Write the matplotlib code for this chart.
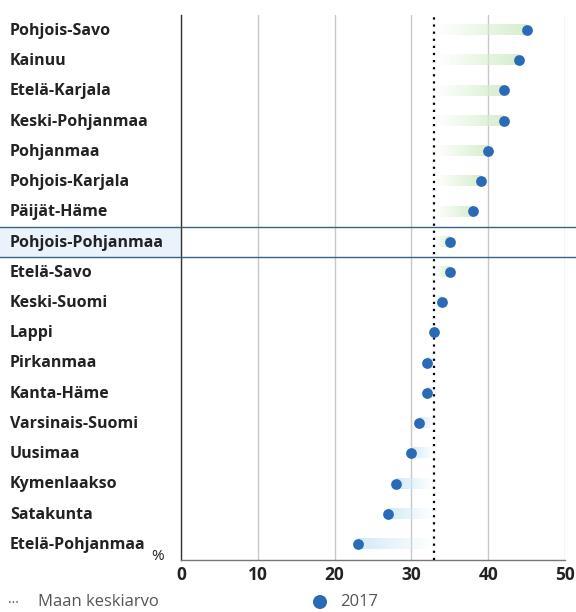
import numpy as np
import matplotlib
matplotlib.use("Agg")
import matplotlib.pyplot as plt
from matplotlib.transforms import blended_transform_factory
from matplotlib.patches import Rectangle, Ellipse

regions = ["Pohjois-Savo", "Kainuu", "Etelä-Karjala", "Keski-Pohjanmaa", "Pohjanmaa",
           "Pohjois-Karjala", "Päijät-Häme", "Pohjois-Pohjanmaa", "Etelä-Savo",
           "Keski-Suomi", "Lappi", "Pirkanmaa", "Kanta-Häme", "Varsinais-Suomi",
           "Uusimaa", "Kymenlaakso", "Satakunta", "Etelä-Pohjanmaa"]
values_2017 = [45, 44, 42, 42, 40, 39, 38, 35, 35, 34, 33, 32, 32, 31, 30, 28, 27, 23]
national_avg = 33
highlight = "Pohjois-Pohjanmaa"
xticks = [0, 10, 20, 30, 40, 50]

plt.rcParams['font.family'] = ['Open Sans', 'DejaVu Sans']

W, H = 576, 612
fig = plt.figure(figsize=(W/100, H/100), dpi=100)
ax = fig.add_axes([181/W, 1-560/H, (565-181)/W, (560-15)/H])

n = len(regions)
ys = np.arange(n)
dot_color = "#2a6ab6"
green = np.array([0.84, 0.93, 0.81])
blue = np.array([0.82, 0.92, 0.97])

bh = 0.17
for y, v in zip(ys, values_2017):
    if v == national_avg:
        continue
    col = green if v > national_avg else blue
    N = 100
    t = np.linspace(0, 1, N) ** 1.1
    img = np.ones((1, N, 4))
    img[0, :, :3] = col
    img[0, :, 3] = t
    lo, hi = min(v, national_avg), max(v, national_avg)
    if v < national_avg:
        img = img[:, ::-1, :]
    ax.imshow(img, extent=(lo, hi, y + bh, y - bh), aspect='auto',
              interpolation='bilinear', zorder=2)

ax.scatter(values_2017, ys, s=60, color=dot_color, zorder=5, linewidths=0)
ax.axvline(national_avg, color="black", linestyle=(0, (1, 2.2)), linewidth=1.6, zorder=4)

ax.set_xlim(0, 50)
ax.set_ylim(17 + 16/30.24, -15/30.24)
ax.set_xticks(xticks)
ax.set_xticklabels([str(x) for x in xticks], fontsize=12.5, fontweight='bold', color="#222222")
ax.tick_params(axis='x', length=0, pad=4)
ax.set_yticks([])
ax.grid(axis='x', color="#c8c8c8", linewidth=1, zorder=0)
ax.set_axisbelow(True)
for s in ['top', 'right']:
    ax.spines[s].set_visible(False)
ax.spines['left'].set_color("#333333")
ax.spines['left'].set_linewidth(1)
ax.spines['bottom'].set_color("#777777")
ax.spines['bottom'].set_linewidth(1)

trans = blended_transform_factory(fig.transFigure, ax.transData)
hi_idx = regions.index(highlight)
ax.add_patch(Rectangle((0, hi_idx - 0.5), 181/W, 1.0, transform=trans,
                       facecolor="#eaf2fb", edgecolor="none", clip_on=False, zorder=0))
for yy in (hi_idx - 0.5, hi_idx + 0.5):
    ax.plot([0, 1], [yy, yy], transform=trans, color="#3a5f8a", linewidth=1,
            clip_on=False, zorder=6)

for y, r in zip(ys, regions):
    ax.text(10/W, y + 0.03, r, transform=trans, ha='left', va='center', fontsize=11.5,
            fontweight='bold', color="#222222")

fig.text(151/W, 1-556/H, "%", fontsize=11, color="#222222", ha='left', va='center')

fig.text(8/W, 1-607/H, "···", fontsize=10, color="#555555", ha='left', va='baseline')
fig.text(38/W, 1-602/H, "Maan keskiarvo", fontsize=12, color="#555555", ha='left', va='center')
fig.patches.append(Ellipse((320/W, 1-602/H), 14/W, 14/H, transform=fig.transFigure,
                           facecolor=dot_color, edgecolor='none'))
fig.text(340/W, 1-602/H, "2017", fontsize=12, color="#555555", ha='left', va='center')

fig.savefig("out.png", dpi=100)
